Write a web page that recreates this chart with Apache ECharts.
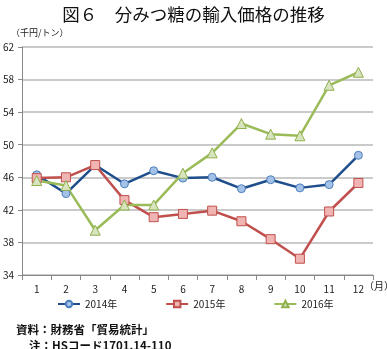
<!DOCTYPE html>
<html><head><meta charset="utf-8">
<script src="https://cdn.jsdelivr.net/npm/echarts@6/dist/echarts.min.js"></script>
<style>html,body{margin:0;padding:0;background:#fff}#c{width:387px;height:349px}</style>
</head><body><div id="c"></div>
<script>
var months = ['1','2','3','4','5','6','7','8','9','10','11','12'];
var s2014 = [46.3, 44.0, 47.5, 45.2, 46.8, 45.9, 46.0, 44.6, 45.7, 44.7, 45.1, 48.7];
var s2015 = [45.9, 46.0, 47.5, 43.2, 41.1, 41.5, 41.9, 40.6, 38.4, 36.0, 41.8, 45.3];
var s2016 = [45.6, 45.0, 39.5, 42.6, 42.6, 46.5, 49.0, 52.6, 51.3, 51.1, 57.3, 58.9];
var yTicks = [34, 38, 42, 46, 50, 54, 58, 62];
var FONT = '"Noto Sans CJK JP", "Noto Sans", sans-serif';
var chart = echarts.init(document.getElementById('c'), null, {renderer:'canvas'});
function ser(name, data, line, fill, border, symbol, size){
  return {name:name, type:'line', data:data, symbol:symbol, symbolSize:size,
    lineStyle:{color:line, width:2.5}, itemStyle:{color:fill, borderColor:border, borderWidth:1},
    emphasis:{disabled:true}, animation:false};
}
chart.setOption({
  animation:false,
  textStyle:{fontFamily:FONT},
  title:[
    {text:'図６　分みつ糖の輸入価格の推移', left:'center', top:1, textStyle:{fontFamily:FONT, fontSize:17.5, fontWeight:'normal', color:'#111'}},
    {text:'資料：財務省「貿易統計」', left:11, top:319, textStyle:{fontFamily:FONT, fontSize:11.5, fontWeight:'bold', color:'#111'}},
    {text:'注：HSコード1701.14-110', left:24, top:335, textStyle:{fontFamily:FONT, fontSize:11.5, fontWeight:'bold', color:'#111'}}
  ],
  graphic:[
    {type:'text', left:11, top:28, style:{text:'（千円/トン）', font:'9px '+FONT, fill:'#222'}},
    {type:'text', left:364, top:281, style:{text:'（月）', font:'10px '+FONT, fill:'#222'}}
  ],
  legend:{top:294, left:52, itemWidth:22, itemHeight:8, itemGap:48,
    textStyle:{fontFamily:FONT, fontSize:10, color:'#222'},
    data:['2014年','2015年','2016年']},
  grid:{left:21, right:14, top:47, bottom:74},
  xAxis:{type:'category', data:months, boundaryGap:true,
    axisLine:{lineStyle:{color:'#888', width:1}},
    axisTick:{show:true, interval:0, length:5, lineStyle:{color:'#888'}},
    axisLabel:{fontSize:10, color:'#222', margin:9, fontFamily:FONT}},
  yAxis:{type:'value', min:yTicks[0], max:yTicks[yTicks.length-1], interval:4,
    axisLine:{show:true, lineStyle:{color:'#888', width:1}},
    axisTick:{show:true, length:4, lineStyle:{color:'#888'}},
    axisLabel:{fontSize:10, color:'#222', margin:8, fontFamily:FONT},
    splitLine:{lineStyle:{color:'#b8b8b8', width:1.5}}},
  series:[
    ser('2014年', s2014, '#1f4e8c', '#a4c2e8', '#4a7ebb', 'circle', 8),
    ser('2015年', s2015, '#c0504d', '#f0b4b2', '#c0504d', 'rect', 9),
    ser('2016年', s2016, '#9bbb59', '#d7e4bd', '#8fb04e', 'triangle', 10)
  ]
});
</script></body></html>
